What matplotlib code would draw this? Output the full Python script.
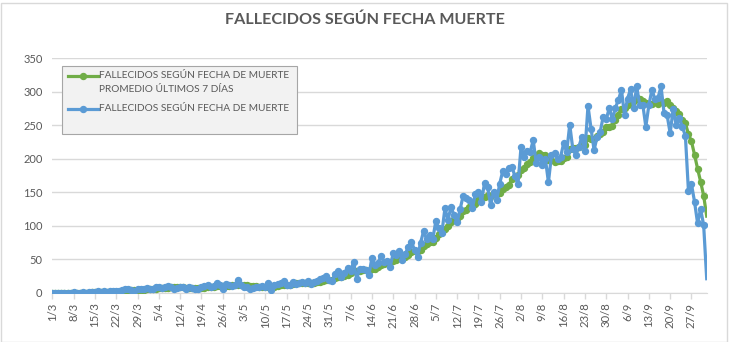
import matplotlib.pyplot as plt
from matplotlib.lines import Line2D
from matplotlib.patches import Rectangle
import numpy as np

plt.rcParams['font.family'] = ['Lato', 'DejaVu Sans']

title = 'FALLECIDOS SEGÚN FECHA MUERTE'
avg_label = ['FALLECIDOS SEGÚN FECHA DE MUERTE', 'PROMEDIO ÚLTIMOS 7 DÍAS']
daily_label = 'FALLECIDOS SEGÚN FECHA DE MUERTE'

# fallecidos por día, del 1/3 al 2/10
daily = [
    # marzo
    0, 0, 0, 0, 0, 0, 0, 1, 0, 0, 1, 0, 1, 1, 1, 2, 1, 2, 1, 2,
    2, 3, 2, 4, 6, 5, 4, 3, 5, 6, 5,
    # abril
    7, 6, 5, 8, 9, 7, 8, 10, 9, 6, 7, 9, 8, 6, 9, 7, 5, 6, 8, 10,
    11, 9, 10, 14, 12, 5, 13, 12, 10, 11,
    # mayo
    19, 12, 9, 8, 6, 7, 9, 8, 10, 9, 15, 4, 11, 13, 15, 17, 11, 12, 16, 13,
    14, 16, 15, 17, 13, 16, 18, 20, 22, 25, 19,
    # junio
    18, 28, 33, 24, 30, 37, 33, 46, 21, 36, 35, 34, 26, 52, 41, 44, 55, 46, 47, 39,
    59, 56, 62, 49, 58, 69, 76, 64, 54, 75,
    # julio
    92, 80, 87, 80, 107, 96, 90, 126, 109, 128, 116, 105, 125, 145, 142, 138, 126, 148, 151, 136,
    164, 158, 131, 151, 138, 163, 182, 178, 186, 188, 174,
    # agosto
    162, 218, 203, 211, 210, 228, 193, 203, 191, 200, 165, 205, 208, 200, 203, 223, 210, 251, 215, 206,
    218, 233, 212, 279, 245, 213, 233, 240, 263, 259, 276,
    # septiembre
    259, 276, 288, 303, 265, 290, 304, 276, 308, 280, 281, 248, 280, 303, 289, 291, 308, 268, 265, 238,
    275, 250, 261, 248, 234, 152, 162, 136, 104, 125,
    # octubre
    101, 21,
]

# promedio de los últimos 7 días
avg7 = [
    # marzo
    0, 0, 0, 0, 0, 0, 0, 0.1, 0.1, 0.1, 0.3, 0.3, 0.4, 0.6, 0.6, 0.9, 1.0, 1.1, 1.3, 1.4,
    1.6, 1.9, 1.9, 2.3, 2.9, 3.4, 3.7, 3.9, 4.1, 4.7, 4.9,
    # abril
    5.0, 5.1, 5.3, 6.0, 6.6, 6.7, 7.1, 7.6, 8.0, 8.1, 8.0, 8.0, 8.1, 7.9, 7.7, 7.4, 7.3, 7.1, 7.0, 7.3,
    8.0, 8.0, 8.4, 9.7, 10.6, 10.1, 10.6, 10.7, 10.9, 11.0,
    # mayo
    11.7, 11.7, 12.3, 11.6, 10.7, 10.3, 10.0, 8.4, 8.1, 8.1, 9.1, 8.9, 9.4, 10.0, 11.0, 12.0, 12.3, 11.9, 13.6, 13.9,
    14.0, 14.1, 13.9, 14.7, 14.9, 14.9, 15.6, 16.4, 17.3, 18.7, 19.0,
    # junio
    19.7, 21.4, 23.6, 24.1, 25.3, 27.0, 29.0, 33.0, 32.0, 32.4, 34.0, 34.6, 33.0, 35.7, 35.0, 38.3, 41.0, 42.6, 44.4, 46.3,
    47.3, 49.4, 52.0, 51.1, 52.9, 56.0, 61.3, 62.0, 61.7, 63.6,
    # julio
    69.7, 72.9, 75.4, 76.0, 82.1, 88.1, 90.3, 95.1, 99.3, 105.1, 110.3, 110.0, 114.1, 122.0, 124.3, 128.4, 128.1, 132.7, 139.3, 140.9,
    143.6, 145.9, 144.9, 148.4, 147.0, 148.7, 155.3, 157.3, 161.3, 169.4, 172.7,
    # agosto
    176.1, 184.0, 187.0, 191.7, 195.1, 200.9, 203.6, 209.4, 205.6, 205.1, 198.6, 197.9, 195.0, 196.0, 196.0, 200.6, 202.0, 214.3, 215.7, 215.4,
    218.0, 222.3, 220.7, 230.6, 229.7, 229.4, 233.3, 236.4, 240.7, 247.4, 247.0,
    # septiembre
    249.0, 258.0, 265.9, 274.9, 275.1, 279.6, 283.6, 286.0, 290.6, 289.4, 286.3, 283.9, 282.4, 282.3, 284.1, 281.7, 285.7, 283.9, 286.3, 280.3,
    276.3, 270.7, 266.4, 257.9, 253.0, 236.9, 226.0, 206.1, 185.3, 165.9,
    # octubre
    144.9, 114.4,
]

tick_labels = ['1/3', '8/3', '15/3', '22/3', '29/3', '5/4', '12/4', '19/4', '26/4',
               '3/5', '10/5', '17/5', '24/5', '31/5', '7/6', '14/6', '21/6', '28/6',
               '5/7', '12/7', '19/7', '26/7', '2/8', '9/8', '16/8', '23/8', '30/8',
               '6/9', '13/9', '20/9', '27/9']

green = '#70ad47'
blue = '#5b9bd5'
txt = '#595959'
grid = '#d9d9d9'

W, H = 730, 342
fig = plt.figure(figsize=(W / 100, H / 100), dpi=100)
ax = fig.add_axes([52.3 / W, 1 - 292.8 / H, 654.4 / W, 234.5 / H])

x = np.arange(len(daily))
ax.plot(x, avg7, color=green, lw=2.3, marker='o', ms=4.3, markevery=slice(0, len(x) - 1),
        solid_joinstyle='round', zorder=3)
ax.plot(x, daily, color=blue, lw=2.3, marker='o', ms=4.3, markevery=slice(0, len(x) - 1),
        solid_joinstyle='round', zorder=4)

ax.set_xlim(0, len(x) - 1)
ax.set_ylim(0, 350)
ax.set_yticks(range(0, 351, 50))
ax.set_xticks(range(0, 7 * len(tick_labels), 7))
ax.set_xticklabels(tick_labels, rotation=90)
ax.yaxis.grid(True, color=grid, lw=1)
ax.set_axisbelow(True)
for s in ['top', 'right', 'left']:
    ax.spines[s].set_visible(False)
ax.spines['bottom'].set_color(grid)
ax.tick_params(axis='y', length=0, pad=7, labelsize=8, labelcolor=txt)
ax.tick_params(axis='x', length=4, width=1, color=grid, pad=3, labelsize=8.2, labelcolor=txt)

fig.text(0.4993, 1 - 20 / H, title, ha='center', va='center', fontsize=11.6,
         fontweight='bold', color=txt)

# leyenda
fig.patches.append(Rectangle((62 / W, 1 - 134 / H), 235 / W, 68 / H, transform=fig.transFigure,
                             facecolor='#f2f2f2', edgecolor='#a6a6a6', lw=0.8, zorder=5))
for yy, col in [(76, green), (109, blue)]:
    fig.add_artist(Line2D([68 / W, 98 / W], [1 - yy / H] * 2, color=col, lw=2.3, zorder=6))
    fig.add_artist(Line2D([83 / W], [1 - yy / H], color=col, marker='o', ms=4.3, zorder=6))
fig.text(99 / W, 1 - 75 / H, avg_label[0], va='center', fontsize=7.3, color=txt, zorder=6)
fig.text(99 / W, 1 - 90 / H, avg_label[1], va='center', fontsize=7.3, color=txt, zorder=6)
fig.text(99 / W, 1 - 109 / H, daily_label, va='center', fontsize=7.3, color=txt, zorder=6)

# borde del gráfico
fig.patches.append(Rectangle((0.5 / W, 0.5 / H), (W - 4) / W, (H - 3) / H, transform=fig.transFigure,
                             fill=False, edgecolor=grid, lw=1))

fig.savefig('out.png', dpi=100)
